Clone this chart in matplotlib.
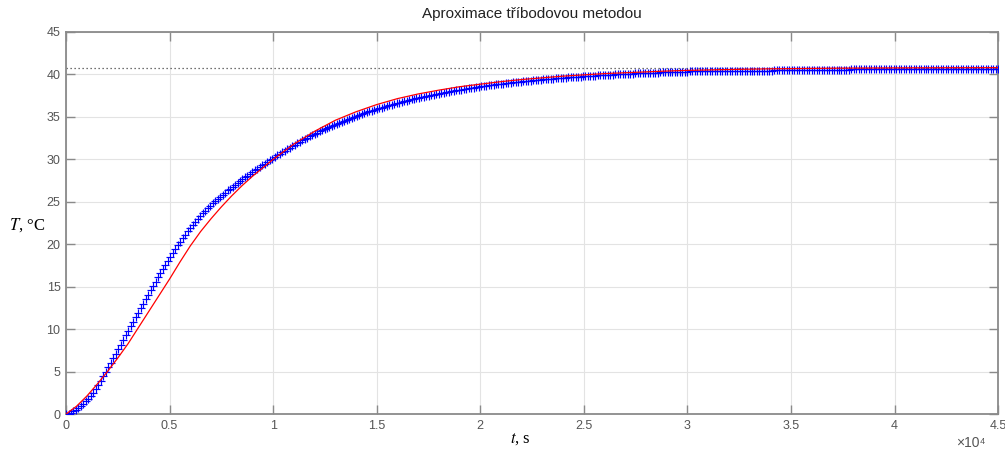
import numpy as np
import matplotlib
matplotlib.use("Agg")
import matplotlib.pyplot as plt

# ── Data ──────────────────────────────────────────────────────────────────
# measured temperature, sampled every DT seconds (blue "+")
DT = 120
temp_meas = [
    0.0, 0.05, 0.15, 0.3, 0.5, 0.72, 0.95, 1.22, 1.5, 1.8,
    2.13, 2.48, 2.9, 3.38, 3.9, 4.45, 4.98, 5.52, 6.05, 6.58,
    7.12, 7.65, 8.18, 8.72, 9.25, 9.78, 10.32, 10.85, 11.38, 11.92,
    12.45, 12.98, 13.52, 14.05, 14.58, 15.1, 15.6, 16.1, 16.6, 17.1,
    17.57, 18.03, 18.5, 18.97, 19.42, 19.85, 20.28, 20.7, 21.1, 21.5,
    21.88, 22.25, 22.62, 22.97, 23.3, 23.63, 23.95, 24.25, 24.55, 24.83,
    25.1, 25.35, 25.6, 25.85, 26.09, 26.33, 26.56, 26.79, 27.01, 27.23,
    27.45, 27.67, 27.88, 28.09, 28.29, 28.5, 28.7, 28.9, 29.1, 29.29,
    29.49, 29.68, 29.87, 30.07, 30.26,
    30.46, 30.65, 30.84, 31.02, 31.2, 31.38, 31.56, 31.73, 31.9, 32.06,
    32.23, 32.39, 32.54, 32.7, 32.85, 32.99, 33.14, 33.28, 33.42, 33.56,
    33.69, 33.83, 33.96, 34.08, 34.21, 34.33, 34.45, 34.57, 34.68, 34.8,
    34.91, 35.02, 35.13, 35.23, 35.34, 35.44, 35.54, 35.64, 35.73, 35.83,
    35.92, 36.01, 36.1, 36.19, 36.27, 36.36, 36.44, 36.52, 36.6, 36.68,
    36.75, 36.83, 36.9, 36.98, 37.05, 37.12, 37.18, 37.25, 37.32, 37.38,
    37.45, 37.51, 37.57, 37.63, 37.69, 37.75, 37.8, 37.86, 37.91, 37.97,
    38.02, 38.07, 38.12, 38.17, 38.22, 38.27, 38.32, 38.36, 38.41, 38.45,
    38.5, 38.54, 38.58, 38.62, 38.66, 38.7, 38.74, 38.78, 38.82, 38.85,
    38.89, 38.93, 38.96, 39.0, 39.03, 39.06, 39.09, 39.13, 39.16, 39.19,
    39.22, 39.25, 39.28, 39.3, 39.33, 39.36, 39.39, 39.41, 39.44, 39.46,
    39.49, 39.51, 39.54, 39.56, 39.58, 39.61, 39.63, 39.65, 39.67, 39.69,
    39.71, 39.73, 39.75, 39.77, 39.79, 39.81, 39.83, 39.85, 39.86, 39.88,
    39.9, 39.92, 39.93, 39.95, 39.96, 39.98, 40.0, 40.01, 40.03, 40.04,
    40.05, 40.07, 40.08, 40.09, 40.11, 40.12, 40.13, 40.15, 40.16, 40.17,
    40.18, 40.19, 40.2, 40.22, 40.23, 40.24, 40.25, 40.26, 40.27, 40.28,
    40.29, 40.3, 40.31, 40.32, 40.32, 40.33,
    40.35, 40.35, 40.35, 40.35, 40.35, 40.35,
    40.38, 40.38, 40.38, 40.38, 40.38, 40.38, 40.38,
    40.38, 40.38, 40.38, 40.38, 40.38, 40.38, 40.38,
    40.44, 40.44, 40.44, 40.44, 40.44, 40.44, 40.44,
    40.44, 40.44, 40.44, 40.44, 40.44, 40.44, 40.44,
    40.5, 40.5, 40.5, 40.5, 40.5, 40.5, 40.5, 40.5, 40.5, 40.5, 40.5,
    40.56, 40.56, 40.56, 40.56, 40.56, 40.56, 40.56, 40.56, 40.56, 40.56,
    40.56, 40.56, 40.56, 40.56, 40.56, 40.56, 40.56, 40.56, 40.56, 40.56,
    40.69, 40.69, 40.69, 40.69, 40.69, 40.69, 40.69, 40.69, 40.69, 40.69,
    40.69, 40.69, 40.69, 40.69, 40.69, 40.69, 40.69, 40.69, 40.69, 40.69,
    40.69, 40.69, 40.69, 40.69, 40.69, 40.69, 40.69, 40.69, 40.69, 40.69,
    40.69, 40.69, 40.69, 40.69, 40.69, 40.69, 40.69, 40.69, 40.69, 40.69,
    40.69, 40.69, 40.69, 40.69, 40.69, 40.69, 40.69, 40.69, 40.69, 40.69,
    40.69, 40.69, 40.69, 40.69, 40.69, 40.69, 40.69, 40.69, 40.69, 40.69,
]
assert len(temp_meas) == 376, len(temp_meas)

# approximation (red line)
t_model = [0, 500, 1000, 1500, 2000, 2500, 3000, 3500, 4000, 4500,
           5000, 5500, 6000, 6500, 7000, 7500, 8000, 8500, 9000, 9500,
           10000, 11000, 12000, 13000, 14000, 15000, 16000, 17000, 18000,
           19000, 20000, 21000, 22000, 23000, 24000, 25000, 26000, 27000,
           28000, 29000, 30000, 32000, 34000, 36000, 38000, 40000, 42500, 45000]
temp_model = [0.0, 0.9, 2.1, 3.5, 5.0, 6.6, 8.3, 10.2, 12.1, 14.0,
              15.9, 17.9, 19.8, 21.5, 23.0, 24.4, 25.7, 26.9, 28.0, 29.0,
              30.0, 31.8, 33.3, 34.6, 35.6, 36.45, 37.15, 37.7, 38.15,
              38.55, 38.85, 39.15, 39.4, 39.6, 39.8, 39.95, 40.1, 40.2,
              40.3, 40.4, 40.48, 40.58, 40.66, 40.71, 40.75, 40.77, 40.79, 40.8]

T_steady = 40.8

x_ticks = [0, 5000, 10000, 15000, 20000, 25000, 30000, 35000, 40000, 45000]
x_tick_labels = ["0", "0.5", "1", "1.5", "2", "2.5", "3", "3.5", "4", "4.5"]
y_ticks = [0, 5, 10, 15, 20, 25, 30, 35, 40, 45]

# ── Plot ──────────────────────────────────────────────────────────────────
plt.rcParams["font.family"] = ["Liberation Sans", "DejaVu Sans"]
plt.rcParams["mathtext.fontset"] = "stix"

AX_COL = "#8a8a8a"
TXT_COL = "#555555"

t_meas = np.arange(len(temp_meas)) * DT

fig = plt.figure(figsize=(10.05, 4.55), dpi=100)
ax = fig.add_axes([0.0657, 0.0901, 0.9274, 0.8396])

ax.axhline(T_steady, color="#444444", lw=0.9, ls=(0, (1, 2.2)), zorder=2)
ax.plot(t_meas, temp_meas, "+", color="blue", ms=6, mew=0.85, zorder=3)
ax.plot(t_model, temp_model, "-", color="red", lw=0.9, zorder=4)

ax.set_xlim(0, 45000)
ax.set_ylim(0, 45)
ax.set_xticks(x_ticks)
ax.set_xticklabels(x_tick_labels)
ax.set_yticks(y_ticks)

ax.grid(True, color="#e3e3e3", lw=0.8)
ax.set_axisbelow(True)
for s in ax.spines.values():
    s.set_color(AX_COL)
    s.set_linewidth(1.3)
ax.tick_params(direction="in", length=6.5, width=1.0, color=AX_COL,
               labelcolor=TXT_COL, labelsize=9, top=True, right=True,
               pad=4)

ax.set_title("Aproximace tříbodovou metodou", fontsize=11, color="#222222", pad=10)
ax.set_xlabel(r"$t$, s", fontsize=12, family="Liberation Serif", labelpad=0)
ax.set_ylabel(r"$T$, °C", fontsize=12, family="Liberation Serif",
              rotation=0, ha="left", va="center")
ax.yaxis.set_label_coords(-0.061, 0.495)
ax.xaxis.set_label_coords(0.487, -0.045)

ax.text(0.971, -0.075, "×10⁴", transform=ax.transAxes, ha="center", va="center",
        fontsize=10, color=TXT_COL)

fig.savefig("out.png", dpi=100)
